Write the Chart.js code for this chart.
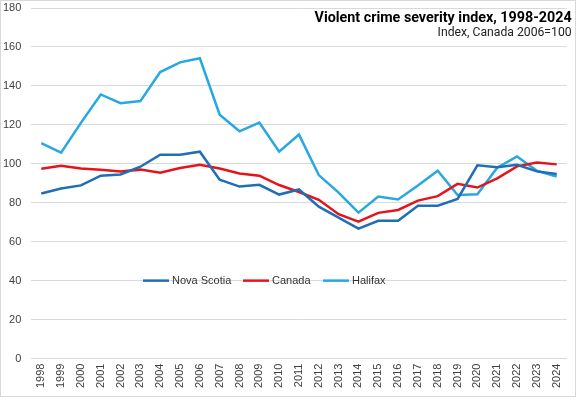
<!DOCTYPE html>
<html>
<head>
<meta charset="utf-8">
<script src="https://cdn.jsdelivr.net/npm/chart.js@4.4.1/dist/chart.umd.min.js"></script>
<style>
  html, body { margin: 0; padding: 0; background: #fff; }
  #wrap { width: 576px; height: 397px; box-sizing: border-box; border: 1px solid #d9d9d9; }
</style>
</head>
<body>
<div id="wrap"><canvas id="chart" width="574" height="395"></canvas></div>
<script>
// Years on the x axis
const years = ['1998','1999','2000','2001','2002','2003','2004','2005','2006','2007','2008','2009','2010',
  '2011','2012','2013','2014','2015','2016','2017','2018','2019','2020','2021','2022','2023','2024'];

// Violent crime severity index values
const novaScotia = [84.7, 87.3, 88.9, 93.9, 94.5, 98.5, 104.7, 104.7, 106.2, 91.8, 88.3, 89.2, 84.2,
  86.8, 78.0, 72.4, 66.7, 70.7, 70.8, 78.5, 78.5, 82.0, 99.2, 98.2, 99.5, 96.1, 94.7];
const canada = [97.5, 99.0, 97.6, 97.0, 96.1, 97.0, 95.4, 97.8, 99.5, 97.6, 95.0, 93.9, 89.1,
  85.5, 81.5, 74.1, 70.3, 74.8, 76.3, 81.1, 83.4, 89.7, 87.8, 92.5, 98.7, 100.7, 99.7];
const halifax = [110.6, 105.7, 121.0, 135.6, 131.1, 132.2, 147.1, 152.1, 154.2, 125.2, 116.7, 121.2, 106.2,
  115.0, 94.2, 85.2, 74.9, 83.2, 81.7, 88.8, 96.4, 84.0, 84.4, 98.0, 103.8, 96.4, 93.5];

// y axis range
const yMin = 0;
const yMax = 180;
const yStep = 20;

const titleText = 'Violent crime severity index, 1998-2024';
const subtitleText = 'Index, Canada 2006=100';

const colors = { ns: '#1f6eb6', can: '#e3151c', hal: '#27a8e0' };

// Title in the top right corner, over the plot
const titlePlugin = {
  id: 'cornerTitle',
  afterDraw(chart) {
    const ctx = chart.ctx;
    const right = chart.chartArea.right + 5;
    ctx.save();
    ctx.fillStyle = '#000';
    ctx.textAlign = 'right';
    ctx.textBaseline = 'alphabetic';
    ctx.font = 'bold 15px Roboto';
    let w = ctx.measureText(titleText).width;
    let sx = Math.min(1, 257 / w);
    ctx.translate(right, 21);
    ctx.scale(sx, 1);
    ctx.fillText(titleText, 0, 0);
    ctx.restore();

    ctx.save();
    ctx.fillStyle = '#222';
    ctx.textAlign = 'right';
    ctx.font = '12.5px Roboto';
    w = ctx.measureText(subtitleText).width;
    sx = Math.min(1, 134 / w);
    ctx.translate(right, 35);
    ctx.scale(sx, 1);
    ctx.fillText(subtitleText, 0, 0);
    ctx.restore();
  }
};

// Legend sitting on the 40 gridline
const legendPlugin = {
  id: 'midLegend',
  afterDatasetsDraw(chart) {
    const ctx = chart.ctx;
    const y = chart.scales.y.getPixelForValue(40);
    const starts = [142, 242, 322];
    ctx.save();
    ctx.font = '11px "Liberation Sans"';
    ctx.textBaseline = 'middle';
    chart.data.datasets.forEach((ds, i) => {
      const x = starts[i];
      ctx.strokeStyle = ds.borderColor;
      ctx.lineWidth = 2.5;
      ctx.beginPath();
      ctx.moveTo(x, y);
      ctx.lineTo(x + 26, y);
      ctx.stroke();
      ctx.fillStyle = '#333';
      ctx.fillText(ds.label, x + 29, y);
    });
    ctx.restore();
  }
};

const lineStyle = { borderWidth: 2.5, pointRadius: 0, tension: 0, fill: false };

new Chart(document.getElementById('chart'), {
  type: 'line',
  data: {
    labels: years,
    datasets: [
      { label: 'Nova Scotia', data: novaScotia, borderColor: colors.ns, backgroundColor: colors.ns, ...lineStyle },
      { label: 'Canada', data: canada, borderColor: colors.can, backgroundColor: colors.can, ...lineStyle },
      { label: 'Halifax', data: halifax, borderColor: colors.hal, backgroundColor: colors.hal, ...lineStyle }
    ]
  },
  options: {
    responsive: false,
    animation: false,
    layout: { padding: { left: -8, right: 6, top: 7, bottom: 3 } },
    plugins: {
      legend: { display: false },
      title: { display: false },
      tooltip: { enabled: false }
    },
    scales: {
      x: {
        offset: true,
        grid: { display: false, drawTicks: false },
        border: { display: true, color: '#d9d9d9', width: 1 },
        ticks: {
          minRotation: 90, maxRotation: 90, autoSkip: false, padding: 5,
          color: '#404040', font: { family: 'Liberation Sans', size: 11 }
        }
      },
      y: {
        min: yMin, max: yMax,
        grid: { color: '#d9d9d9', drawTicks: false },
        border: { display: false },
        afterFit(scale) { scale.paddingTop = 0; },
        ticks: {
          stepSize: yStep, padding: 10,
          color: '#404040', font: { family: 'Liberation Sans', size: 11 }
        }
      }
    }
  },
  plugins: [titlePlugin, legendPlugin]
});
</script>
</body>
</html>
